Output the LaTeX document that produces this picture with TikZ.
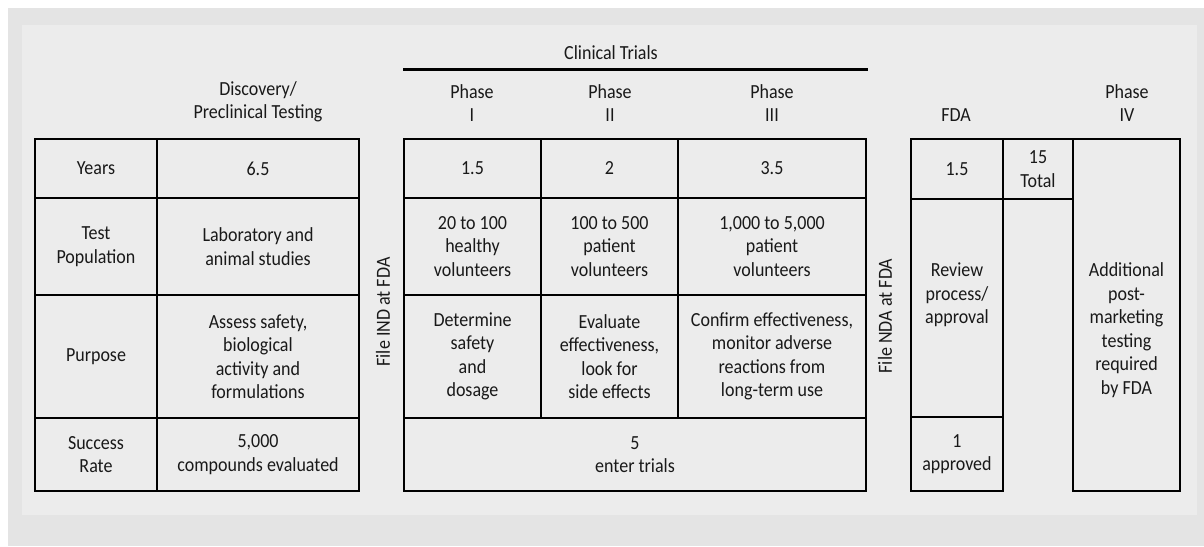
\documentclass[tikz,border=0pt]{standalone}
\usepackage{fontspec}
\setmainfont{Carlito}[FakeStretch=0.9]
\begin{document}
\begin{tikzpicture}[x=1pt,y=-1pt,
  cell/.style={draw=black, line width=2.8pt, inner sep=0pt, align=center, font=\fontsize{20}{23.5}\selectfont, text=black!90},
  txt/.style={inner sep=0pt, align=center, font=\fontsize{20}{23.5}\selectfont, text=black!90},
  gridline/.style={line width=2.8pt, draw=black}]
\useasboundingbox (0,0) rectangle (1204,546);
\fill[white] (0,0) rectangle (1204,546);
\fill[black!10.5] (8,8) rectangle (1204,546);
\fill[black!7.5] (22,25) rectangle (1197,515);
% headers
\node[txt] (hdisc) at (258,102) {Discovery/\\Preclinical Testing};
\node[txt] (hclin) at (611,53) {Clinical Trials};
\coordinate (cl1) at (403,69);
\coordinate (cl2) at (868,69);
\draw[gridline, line width=3pt] (cl1) -- (cl2);
\node[txt] (hp1) at (472,103) {Phase\\I};
\node[txt] (hp2) at (610,103) {Phase\\II};
\node[txt] (hp3) at (772,103) {Phase\\III};
\node[txt] (hfda) at (956,115) {FDA};
\node[txt] (hp4) at (1127,103) {Phase\\IV};
% left table
\node[cell, minimum width=122pt, minimum height=59pt] (lyears) at (96,168.5) {Years};
\node[cell, minimum width=202pt, minimum height=59pt] (dyears) at (258,168.5) {6.5};
\node[cell, minimum width=122pt, minimum height=97pt] (ltest) at (96,246.5) {Test\\Population};
\node[cell, minimum width=202pt, minimum height=97pt] (dtest) at (258,246.5) {Laboratory and\\animal studies};
\node[cell, minimum width=122pt, minimum height=123pt] (lpurp) at (96,356.5) {Purpose};
\node[cell, minimum width=202pt, minimum height=123pt] (dpurp) at (258,356.5) {Assess safety,\\biological\\activity and\\formulations};
\node[cell, minimum width=122pt, minimum height=73pt] (lsucc) at (96,454.5) {Success\\Rate};
\node[cell, minimum width=202pt, minimum height=73pt] (dsucc) at (258,454.5) {5,000\\compounds evaluated};
% IND
\node[txt, rotate=90] (ind) at (383,312) {File IND at FDA};
% middle table
\node[cell, minimum width=137pt, minimum height=59pt] (p1y) at (472.5,168.5) {1.5};
\node[cell, minimum width=137pt, minimum height=59pt] (p2y) at (609.5,168.5) {2};
\node[cell, minimum width=188pt, minimum height=59pt] (p3y) at (772,168.5) {3.5};
\node[cell, minimum width=137pt, minimum height=97pt] (p1t) at (472.5,246.5) {20 to 100\\healthy\\volunteers};
\node[cell, minimum width=137pt, minimum height=97pt] (p2t) at (609.5,246.5) {100 to 500\\patient\\volunteers};
\node[cell, minimum width=188pt, minimum height=97pt] (p3t) at (772,246.5) {1,000 to 5,000\\patient\\volunteers};
\node[cell, minimum width=137pt, minimum height=123pt] (p1p) at (472.5,356.5) {Determine\\safety\\and\\dosage};
\node[cell, minimum width=137pt, minimum height=123pt] (p2p) at (609.5,356.5) {Evaluate\\effectiveness,\\look for\\side effects};
\node[cell, minimum width=188pt, minimum height=123pt] (p3p) at (772,356.5) {Confirm effectiveness,\\monitor adverse\\reactions from\\long-term use};
\node[cell, minimum width=462pt, minimum height=73pt] (psucc) at (635,454.5) {5\\enter trials};
% NDA
\node[txt, rotate=90] (nda) at (885,316) {File NDA at FDA};
% right table
\node[cell, minimum width=92pt, minimum height=60pt] (fy) at (957,169) {1.5};
\node[cell, minimum width=70pt, minimum height=60pt] (ty) at (1038,169) {15\\Total};
\node[cell, minimum width=92pt, minimum height=218pt] (fr) at (957,308) {};
\node[txt] (frt) at (957,295) {Review\\process/\\approval};
\node[cell, minimum width=92pt, minimum height=74pt] (fa) at (957,454) {1\\approved};
\node[cell, minimum width=107pt, minimum height=352pt] (p4) at (1126.5,315) {};
\node[txt] (p4t) at (1126.5,330) {Additional\\post-\\marketing\\testing\\required\\by FDA};
\end{tikzpicture}
\end{document}
